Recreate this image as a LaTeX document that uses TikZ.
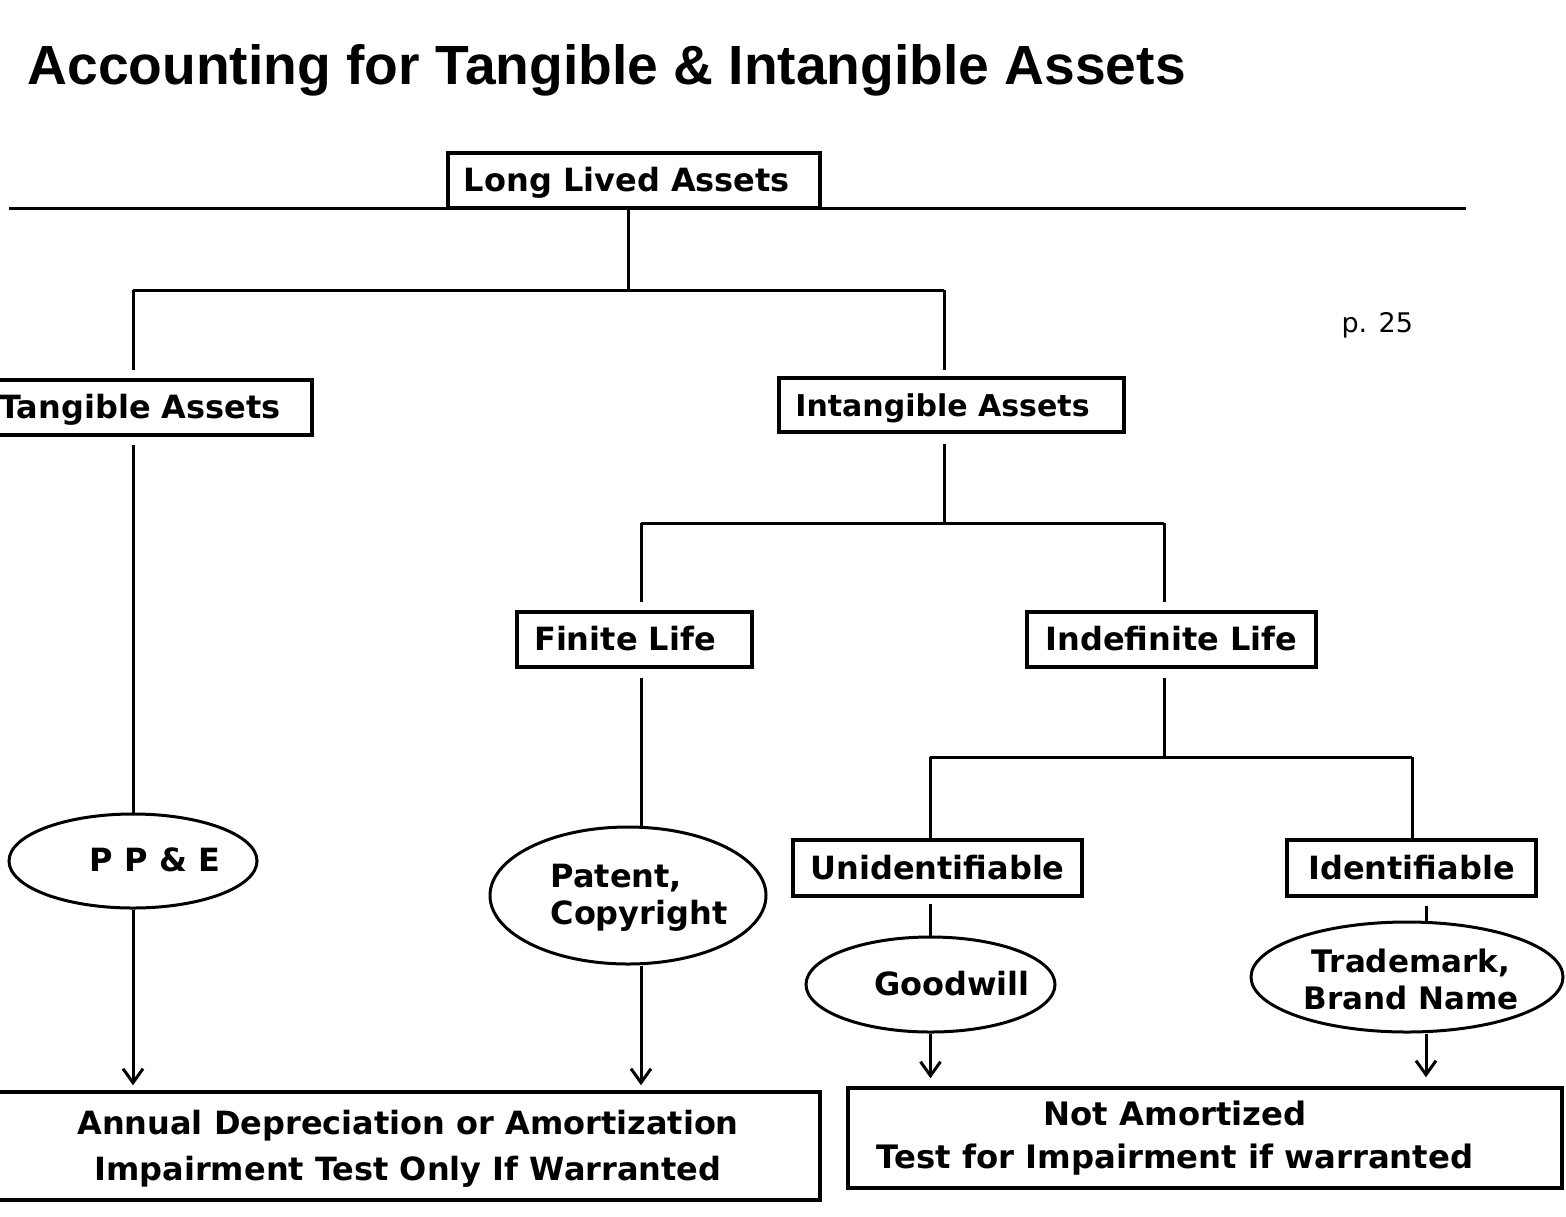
\documentclass[tikz,border=0pt]{standalone}
\usepackage{fontspec}
\setmainfont{DejaVu Sans}
\newfontfamily\titlefont{Liberation Sans}
\usetikzlibrary{shapes.geometric,arrows.meta}
\begin{document}
\begin{tikzpicture}[x=1pt,y=-1pt,line width=3pt,
  box/.style={draw,rectangle,line width=3.5pt,inner sep=0pt,text height=22pt,text depth=0pt,
    font=\fontsize{32}{38}\selectfont\bfseries},
  oval/.style={draw,ellipse,line width=3pt,inner sep=0pt},
  lbl/.style={inner sep=0pt,font=\fontsize{32}{37}\selectfont\bfseries},
  arr/.style={-{Straight Barb[length=14pt,width=20pt,line width=3pt]}}]
\useasboundingbox (0,0) rectangle (1566,1216);

% title and page note
\node[anchor=base west,inner sep=0pt,font=\titlefont\fontsize{55.2}{60}\selectfont\bfseries] (title) at (26,84)
  {Accounting for Tangible \& Intangible Assets};
\node[anchor=base west,inner sep=0pt,font=\fontsize{27}{32}\selectfont] (pg) at (1340,332) {p. 25};

% rule
\coordinate (hr1) at (9,208);
\coordinate (hr2) at (1466,208);
\draw (hr1) -- (hr2);

% boxes
\node[box,fill=white,minimum width=372pt,minimum height=55pt] (lla) at (634,180.5) {Long Lived Assets\hspace*{14pt}};
\node[box,minimum width=317pt,minimum height=55pt] (tan) at (153.5,407.5) {Tangible Assets\hspace*{27pt}};
\node[box,minimum width=345pt,minimum height=54pt,font=\fontsize{30}{36}\selectfont\bfseries] (int) at (951.5,405) {Intangible Assets\hspace*{18pt}};
\node[box,minimum width=235pt,minimum height=55pt] (fin) at (634.5,639.5) {Finite Life\hspace*{19pt}};
\node[box,minimum width=289pt,minimum height=55pt] (ind) at (1171.5,639.5) {Indefinite Life};
\node[box,minimum width=289pt,minimum height=56pt] (uni) at (937.5,868) {Unidentifiable};
\node[box,minimum width=249pt,minimum height=56pt] (ide) at (1411.5,868) {Identifiable};

% ellipses
\node[oval,minimum width=248pt,minimum height=94pt] (ppe) at (133,861) {};
\node[lbl,anchor=base] (ppeT) at (155,871) {P P \& E};
\node[oval,minimum width=276pt,minimum height=137pt] (pat) at (628,895.5) {};
\node[lbl,align=left] (patT) at (639,898) {Patent,\\Copyright};
\node[oval,minimum width=249pt,minimum height=95pt] (gw) at (930.5,984.5) {};
\node[lbl,anchor=base] (gwT) at (952,995) {Goodwill};
\node[oval,minimum width=312pt,minimum height=110pt] (tm) at (1407,977) {};
\node[lbl,align=center,font=\fontsize{31}{37}\selectfont\bfseries] (tmT) at (1411,979) {Trademark,\\Brand Name};

% bottom boxes
\node[draw,rectangle,line width=3.5pt,minimum width=822pt,minimum height=108pt] (bl) at (409,1146) {};
\node[lbl,align=center,font=\fontsize{32}{46}\selectfont\bfseries] (blT) at (408,1149)
  {Annual Depreciation or Amortization\\Impairment Test Only If Warranted};
\node[draw,rectangle,line width=3.5pt,minimum width=714pt,minimum height=100pt] (br) at (1205,1138) {};
\node[lbl,align=center,font=\fontsize{32.3}{43}\selectfont\bfseries] (brT) at (1175,1138.5)
  {Not Amortized\\Test for Impairment if warranted};

% junctions
\coordinate (j1) at (628,290);
\coordinate (jL) at (133,290);
\coordinate (jR) at (944,290);
\coordinate (jI) at (944,523);
\coordinate (jF) at (641,523);
\coordinate (jD) at (1164,523);
\coordinate (jN) at (1164,757);
\coordinate (jU) at (930,757);
\coordinate (jT) at (1412,757);
\coordinate (xI) at (1426,900);

% connectors
\draw (j1 |- lla.south) -- (j1);
\draw (jL) -- (jR);
\draw[shorten >=8pt] (jL) -- (jL |- tan.north);
\draw[shorten >=6pt] (jR) -- (jR |- int.north);
\draw[shorten <=8pt] (jL |- tan.south) -- (ppe.north);
\draw[arr,shorten >=5pt] (ppe.south) -- (ppe.south |- bl.north);

\draw[shorten <=10pt] (jI |- int.south) -- (jI);
\draw (jF) -- (jD);
\draw[shorten >=8pt] (jF) -- (jF |- fin.north);
\draw[shorten >=8pt] (jD) -- (jD |- ind.north);
\draw[shorten <=9pt] (jF |- fin.south) -- (jF |- pat.north);
\draw[arr,shorten >=5pt] (jF |- pat.south) -- (jF |- bl.north);

\draw[shorten <=9pt] (jN |- ind.south) -- (jN);
\draw (jU) -- (jT);
\draw (jU) -- (jU |- uni.north);
\draw (jT) -- (jT |- ide.north);
\draw[shorten <=6pt] (gw.north |- uni.south) -- (gw.north);
\draw[shorten <=8pt] (xI |- ide.south) -- (xI |- tm.north);
\draw[arr,shorten >=8pt] (gw.south) -- (gw.south |- br.north);
\draw[arr,shorten >=9pt] (xI |- tm.south) -- (xI |- br.north);
\end{tikzpicture}
\end{document}
